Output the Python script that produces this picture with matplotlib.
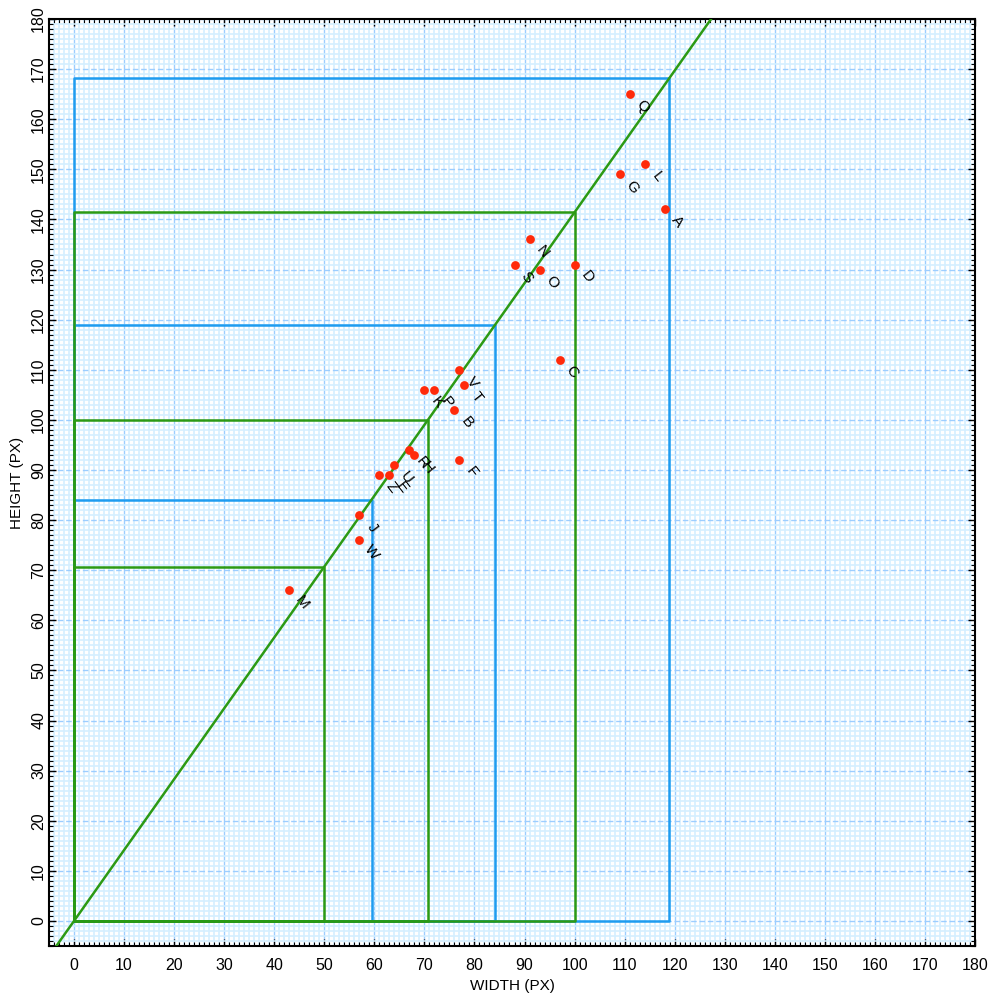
import matplotlib.pyplot as plt
import numpy as np
from matplotlib.ticker import MultipleLocator

plt.rcParams['font.family'] = ['Liberation Sans', 'DejaVu Sans']

# data
labels = ['Q', 'L', 'G', 'A', 'N', 'S', 'O', 'D', 'C', 'V', 'T', 'K', 'P',
          'B', 'R', 'H', 'F', 'U', 'E', 'Z', 'J', 'W', 'M']
widths = [111, 114, 109, 118, 91, 88, 93, 100, 97, 77, 78, 70, 72,
          76, 67, 68, 77, 64, 63, 61, 57, 57, 43]
heights = [165, 151, 149, 142, 136, 131, 130, 131, 112, 110, 107, 106, 106,
           102, 94, 93, 92, 91, 89, 89, 81, 76, 66]

# paper formats (width, height)
blue_rects = [(59.5, 84.1), (84.1, 118.9), (118.9, 168.2)]
green_rects = [(50.0, 70.7), (70.7, 100.0), (100.0, 141.4)]

blue = '#1e9cf0'
green = '#2c9a14'

fig = plt.figure(figsize=(10, 10), dpi=100)
ax = fig.add_axes([0.049, 0.054, 0.926, 0.927])

ax.set_xlim(-5, 180)
ax.set_ylim(-5, 180)

# graph paper grid
ax.xaxis.set_major_locator(MultipleLocator(10))
ax.yaxis.set_major_locator(MultipleLocator(10))
ax.xaxis.set_minor_locator(MultipleLocator(1))
ax.yaxis.set_minor_locator(MultipleLocator(1))
ax.grid(which='minor', color='#d4efff', linewidth=1.2, zorder=0)
ax.xaxis.grid(True, which='major', color='#9ccdff', linewidth=1.0)
ax.yaxis.grid(True, which='major', color='#9ccdff', linewidth=1.0, linestyle=(0, (4, 2)))
ax.set_axisbelow(True)

ax.tick_params(which='both', direction='in', top=True, right=True, colors='black')
ax.tick_params(which='major', length=5, width=1, labelsize=11.5)
ax.tick_params(which='minor', length=3, width=0.8)
ax.tick_params(axis='x', which='major', pad=9)
ax.tick_params(axis='y', which='major', pad=2)
for lab in ax.get_yticklabels():
    lab.set_rotation(90)
    lab.set_va('center')
for sp in ax.spines.values():
    sp.set_linewidth(1.5)

# rectangles
for w, h in blue_rects:
    ax.plot([0, w, w, 0, 0], [0, 0, h, h, 0], color=blue, linewidth=1.8, zorder=2)
for w, h in green_rects:
    ax.plot([0, w, w, 0, 0], [0, 0, h, h, 0], color=green, linewidth=1.8, zorder=3)

# sqrt(2) diagonal
ax.axline((0, 0), slope=np.sqrt(2), color=green, linewidth=1.8, zorder=3)

# points with labels
ax.scatter(widths, heights, s=40, color='#ff2a0a', zorder=5, linewidths=0)
for lab, x, y in zip(labels, widths, heights):
    ax.annotate(lab, (x, y), xytext=(9, -9), textcoords='offset points',
                rotation=-52, ha='center', va='center', fontsize=11, zorder=6)

ax.set_xlabel('WIDTH (PX)', fontsize=11, labelpad=4)
ax.set_ylabel('HEIGHT (PX)', fontsize=11, labelpad=5)

fig.savefig('out.png', dpi=100)
